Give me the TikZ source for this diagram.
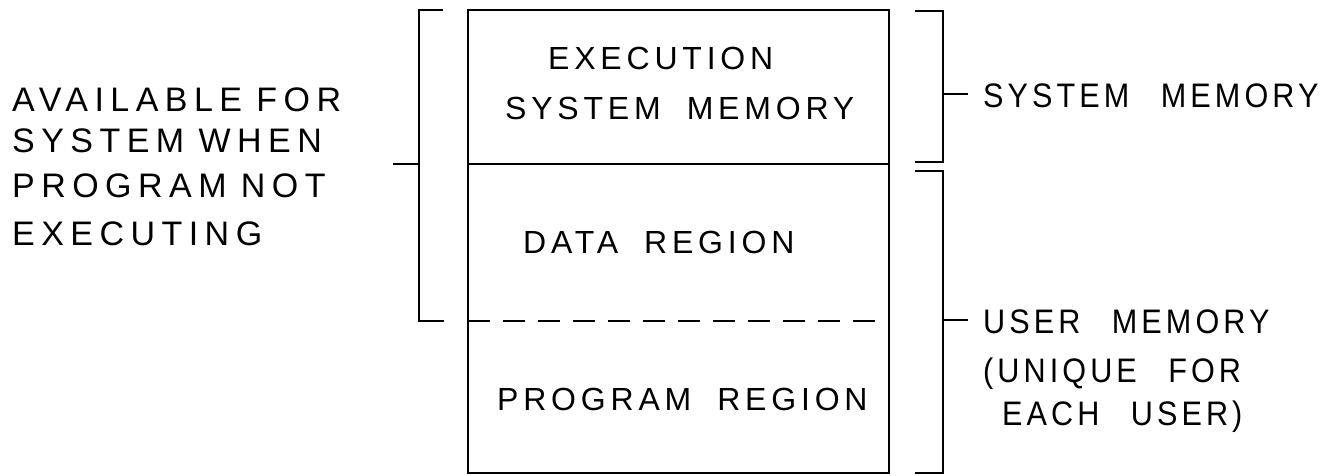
\documentclass[tikz,border=0pt]{standalone}
\usepackage{fontspec}
\setmainfont{Liberation Sans}
% lettering faces: boxes, left notes, right notes
\newfontfamily\boxface{Liberation Sans}[LetterSpace=15, WordSpace=1.9]
\newfontfamily\leftface{Liberation Sans}[LetterSpace=19, WordSpace=0.9]
\newfontfamily\rightface{Liberation Sans}[FakeStretch=0.9, LetterSpace=12, WordSpace=2.5]
\begin{document}
\begin{tikzpicture}[x=1pt,y=-1pt,
  ink/.style={line width=2.6pt, line cap=butt, line join=miter},
  boxtext/.style={anchor=base west, inner sep=0pt, font=\boxface\fontsize{32}{32}\selectfont},
  lefttext/.style={anchor=base west, inner sep=0pt, font=\leftface\fontsize{34}{34}\selectfont},
  righttext/.style={anchor=base west, inner sep=0pt, font=\rightface\fontsize{34}{34}\selectfont},
  divider/.style={ink, dash pattern=on 22pt off 13pt}]
\useasboundingbox (0,0) rectangle (1333,476);

% memory column
\coordinate (tl) at (468,10);
\coordinate (br) at (889,473);
\draw[ink] (tl) rectangle (br);
\draw[ink] (468,164) coordinate (s1) -- (889,164) coordinate (s2);
\draw[divider] (468,321) coordinate (d1) -- (889,321) coordinate (d2);

\node[boxtext] (exec1) at (548,70) {EXECUTION};
\node[boxtext] (exec2) at (505,120) {SYSTEM MEMORY};
\node[boxtext] (data) at (523,253) {DATA REGION};
\node[boxtext] (prog) at (497,410) {PROGRAM REGION};

% left bracket: system use of the data region
\draw[ink] (443,10) -- (419,10) -- (419,321) -- (444,321);
\coordinate (lb) at (419,164);
\coordinate (lt) at (393,164);
\draw[ink] (lb) -- (lt);

\node[lefttext] (av1) at (12,112) {AVAILABLE FOR};
\node[lefttext] (av2) at (12,153) {SYSTEM WHEN};
\node[lefttext] (av3) at (12,197) {PROGRAM NOT};
\node[lefttext] (av4) at (12,245) {EXECUTING};

% right brackets: system and user memory
\draw[ink] (915,11) -- (943,11) -- (943,162) -- (915,162);
\draw[ink] (915,171) -- (943,171) -- (943,473) -- (915,473);
\coordinate (sb) at (943,94);
\coordinate (st) at (968,94);
\coordinate (ub) at (943,320);
\coordinate (ut) at (968,320);
\draw[ink] (sb) -- (st);
\draw[ink] (ub) -- (ut);

\node[righttext] (sys) at (983,108) {SYSTEM MEMORY};
\node[righttext] (usr1) at (983,333) {USER MEMORY};
\node[righttext] (usr2) at (983,382) {(UNIQUE FOR};
\node[righttext] (usr3) at (1002,425) {EACH USER)};
\end{tikzpicture}
\end{document}
